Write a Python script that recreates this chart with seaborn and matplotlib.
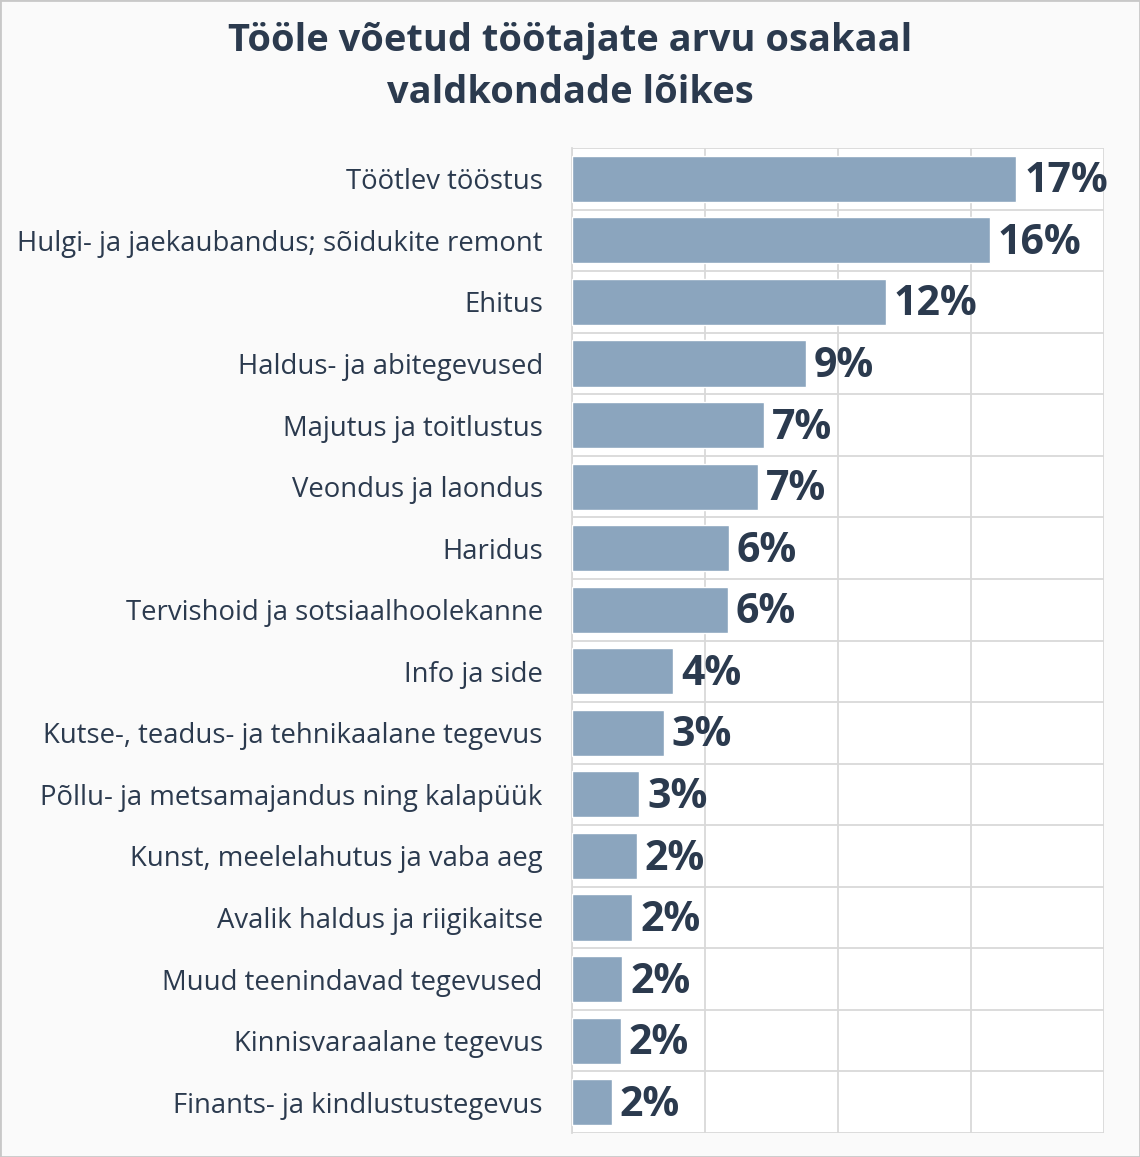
import matplotlib
matplotlib.use("Agg")
import matplotlib.pyplot as plt
import seaborn as sns
import pandas as pd
import numpy as np
from matplotlib.patches import Rectangle

categories = [
    "Töötlev tööstus",
    "Hulgi- ja jaekaubandus; sõidukite remont",
    "Ehitus",
    "Haldus- ja abitegevused",
    "Majutus ja toitlustus",
    "Veondus ja laondus",
    "Haridus",
    "Tervishoid ja sotsiaalhoolekanne",
    "Info ja side",
    "Kutse-, teadus- ja tehnikaalane tegevus",
    "Põllu- ja metsamajandus ning kalapüük",
    "Kunst, meelelahutus ja vaba aeg",
    "Avalik haldus ja riigikaitse",
    "Muud teenindavad tegevused",
    "Kinnisvaraalane tegevus",
    "Finants- ja kindlustustegevus",
]
values = [16.7, 15.7, 11.8, 8.8, 7.2, 7.0, 5.9, 5.85, 3.8, 3.45, 2.52, 2.44, 2.26, 1.88, 1.84, 1.5]
value_labels = ["17%", "16%", "12%", "9%", "7%", "7%", "6%", "6%", "4%", "3%", "3%", "2%", "2%", "2%", "2%", "2%"]
title_text = "Tööle võetud töötajate arvu osakaal\nvaldkondade lõikes"

sns.set_theme(style="white")
plt.rcParams["font.family"] = ["Open Sans", "DejaVu Sans"]

dark = "#2b3a4e"
bar_color = "#8ba5be"
grid_color = "#d9d9d9"

df = pd.DataFrame({"cat": categories, "val": values})

fig = plt.figure(figsize=(11.4, 11.57), dpi=100, facecolor="#fafafa")
ax = fig.add_axes([572 / 1140, 1 - 1133 / 1157, (1104 - 572) / 1140, (1133 - 148) / 1157])
ax.set_facecolor("white")

sns.barplot(data=df, x="val", y="cat", orient="h", color=bar_color, saturation=1,
            width=0.75, ax=ax, zorder=3)

ax.set_xlim(0, 20)
ax.set_ylim(len(categories) - 0.5, -0.5)
ax.set_xticks([0, 5, 10, 15, 20])
ax.set_xticklabels([])
ax.tick_params(axis="x", length=0)
ax.xaxis.grid(True, color=grid_color, linewidth=1.3, zorder=0)
ax.set_yticks(np.arange(-0.5, len(categories), 1.0), minor=True)
ax.yaxis.grid(True, which="minor", color=grid_color, linewidth=1.3, zorder=0)
ax.tick_params(axis="y", which="minor", length=10, color=grid_color, width=1.3, direction="out")
ax.tick_params(axis="y", which="major", length=0, pad=21, labelsize=19.8, labelcolor=dark)
ax.set_xlabel("")
ax.set_ylabel("")
for s in ["top", "bottom", "right"]:
    ax.spines[s].set_visible(False)
ax.spines["left"].set_color(grid_color)
ax.spines["left"].set_linewidth(1.3)

for i, (v, lab) in enumerate(zip(values, value_labels)):
    ax.text(v + 0.3, i + 0.05, lab, va="center", ha="left", fontsize=29.5,
            fontweight="bold", color=dark, zorder=4)

fig.text(0.5, 1 - 67 / 1157, title_text, ha="center", va="center", fontsize=27.4,
         fontweight="bold", color=dark, linespacing=1.45)

fig.patches.append(Rectangle((0, 0), 1, 1, transform=fig.transFigure, fill=False,
                             edgecolor="#c8c8c8", linewidth=2, zorder=10))

fig.savefig("out.png", dpi=100, facecolor=fig.get_facecolor())
